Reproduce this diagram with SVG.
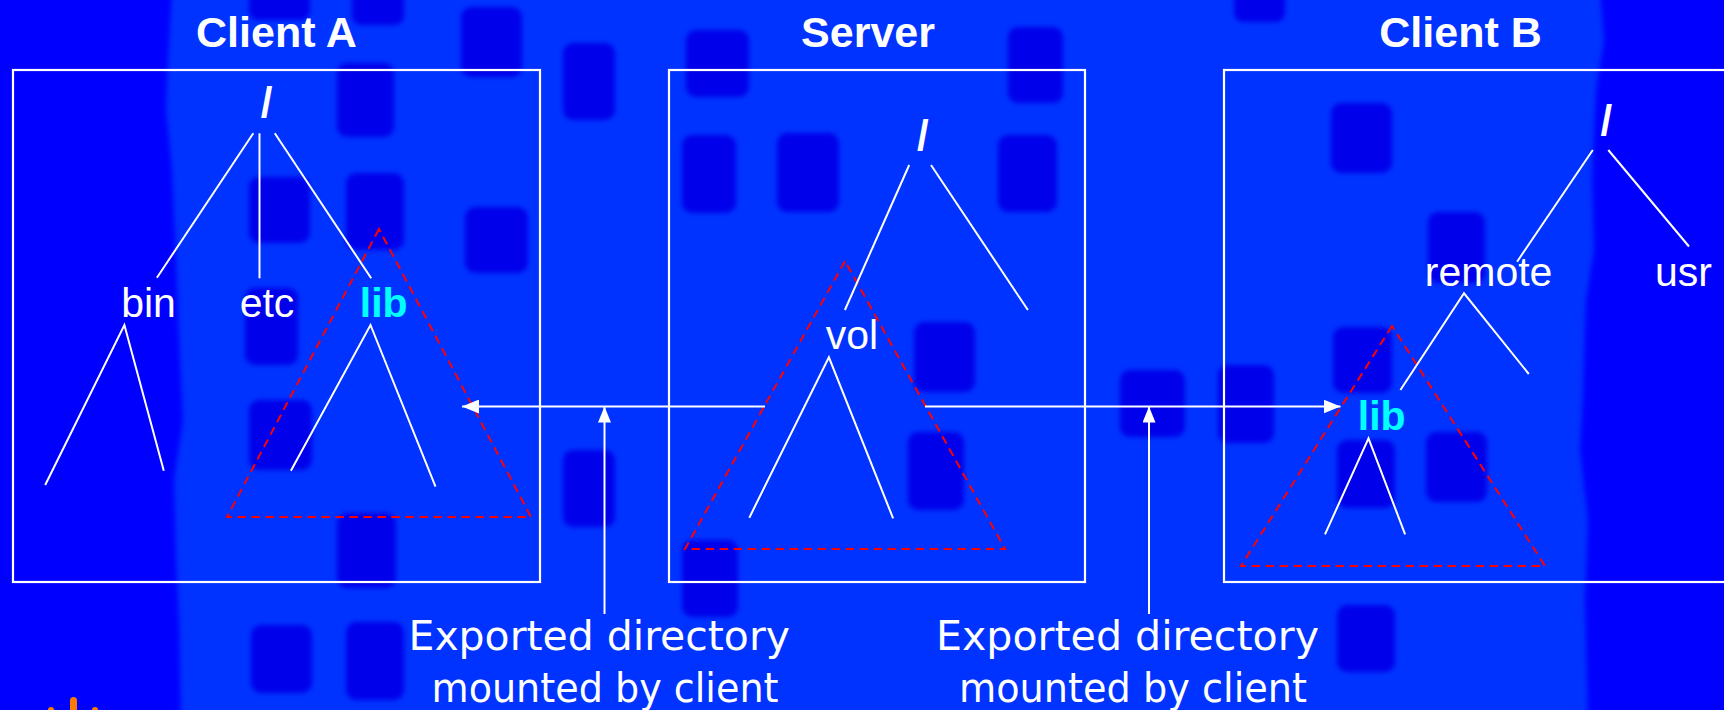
<svg xmlns="http://www.w3.org/2000/svg" width="1724" height="710" viewBox="0 0 1724 710">
<defs>
<style>
.bg{fill:#0033ff}
.strip{fill:#0000ff}
.sq{fill:#0006ea}
.box{fill:none;stroke:#ffffff;stroke-width:2.2}
.title{font-family:"Liberation Sans",Arial,sans-serif;font-weight:bold;font-size:43px;fill:#ffffff;text-anchor:middle}
.slash{font-family:"Liberation Sans",Arial,sans-serif;font-weight:bold;font-size:42px;fill:#ffffff;text-anchor:middle}
.lbl{font-family:"Liberation Sans",Arial,sans-serif;font-size:41px;fill:#ffffff;text-anchor:middle}
.lib{font-family:"Liberation Sans",Arial,sans-serif;font-weight:bold;font-size:41px;fill:#00ffff;text-anchor:middle}
.note{font-family:"DejaVu Sans",sans-serif;font-size:40px;fill:#ffffff}
.tree{fill:none;stroke:#ffffff;stroke-width:2}
.exp{fill:none;stroke:#ff0000;stroke-width:2;stroke-dasharray:8.5 5.5}
.arr{fill:none;stroke:#ffffff;stroke-width:2}
</style>
<filter id="soft" x="-20%" y="-20%" width="140%" height="140%"><feGaussianBlur stdDeviation="2.5"/></filter>
<marker id="ah" viewBox="0 0 17 14" refX="17" refY="7" markerWidth="17" markerHeight="14" markerUnits="userSpaceOnUse" orient="auto"><path d="M0,0 L17,7 L0,14 Z" fill="#ffffff"/></marker>
<marker id="av" viewBox="0 0 16 13" refX="16" refY="6.5" markerWidth="16" markerHeight="13" markerUnits="userSpaceOnUse" orient="auto"><path d="M0,0 L16,6.5 L0,13 Z" fill="#ffffff"/></marker>
</defs>

<g id="background">
<rect class="bg" x="0" y="0" width="1724" height="710"/>
<path class="strip" filter="url(#soft)" d="M-10,-10 L172,-10 L168,60 L166,110 L172,170 L176,260 L180,360 L183,420 L174,480 L176,560 L179,620 L181,720 L-10,720 Z"/>
<path class="strip" filter="url(#soft)" d="M1734,-10 L1600,-10 L1604,40 L1596,90 L1592,180 L1594,250 L1586,300 L1583,400 L1580,450 L1588,520 L1585,600 L1588,720 L1734,720 Z"/>
<g filter="url(#soft)">
<rect class="sq" x="249" y="-12" width="61" height="32" rx="9"/>
<rect class="sq" x="352" y="-12" width="52" height="37" rx="9"/>
<rect class="sq" x="461" y="7" width="61" height="70" rx="10"/>
<rect class="sq" x="563" y="43" width="52" height="77" rx="10"/>
<rect class="sq" x="337" y="63" width="57" height="74" rx="10"/>
<rect class="sq" x="249" y="177" width="61" height="66" rx="10"/>
<rect class="sq" x="346" y="173" width="58" height="77" rx="10"/>
<rect class="sq" x="465" y="207" width="63" height="66" rx="10"/>
<rect class="sq" x="245" y="288" width="53" height="77" rx="10"/>
<rect class="sq" x="249" y="400" width="63" height="70" rx="10"/>
<rect class="sq" x="337" y="513" width="59" height="75" rx="10"/>
<rect class="sq" x="251" y="625" width="61" height="68" rx="10"/>
<rect class="sq" x="346" y="622" width="58" height="78" rx="10"/>
<rect class="sq" x="563" y="450" width="52" height="77" rx="10"/>
<rect class="sq" x="686" y="30" width="63" height="67" rx="10"/>
<rect class="sq" x="682" y="135" width="54" height="78" rx="10"/>
<rect class="sq" x="777" y="133" width="62" height="79" rx="10"/>
<rect class="sq" x="998" y="135" width="59" height="77" rx="10"/>
<rect class="sq" x="1008" y="27" width="55" height="76" rx="10"/>
<rect class="sq" x="914" y="322" width="61" height="70" rx="10"/>
<rect class="sq" x="908" y="432" width="56" height="78" rx="10"/>
<rect class="sq" x="682" y="540" width="56" height="77" rx="10"/>
<rect class="sq" x="1120" y="370" width="65" height="67" rx="10"/>
<rect class="sq" x="1218" y="365" width="56" height="78" rx="10"/>
<rect class="sq" x="1234" y="-12" width="51" height="34" rx="9"/>
<rect class="sq" x="1331" y="103" width="61" height="70" rx="10"/>
<rect class="sq" x="1428" y="212" width="57" height="71" rx="10"/>
<rect class="sq" x="1333" y="327" width="59" height="66" rx="10"/>
<rect class="sq" x="1337" y="440" width="58" height="68" rx="10"/>
<rect class="sq" x="1426" y="432" width="61" height="70" rx="10"/>
<rect class="sq" x="1337" y="605" width="58" height="67" rx="10"/>
</g>
<g id="logo" fill="#ff7a00">
<rect x="70" y="697" width="7" height="20" rx="3.5"/>
<circle cx="51" cy="710" r="3"/>
<circle cx="95" cy="710" r="3"/>
</g>
</g>

<g id="client-a">
<rect class="box" x="13" y="70" width="527" height="512"/>
<text class="title" x="276.5" y="47">Client A</text>
</g>
<g id="server">
<rect class="box" x="669" y="70" width="416" height="512"/>
<text class="title" x="868" y="47">Server</text>
</g>
<g id="client-b">
<rect class="box" x="1224" y="70" width="520" height="512"/>
<text class="title" x="1460.5" y="47">Client B</text>
</g>

<g id="a-root"><text class="slash" x="266.5" y="116.5">/</text></g>
<g id="a-bin"><text class="lbl" x="148.5" y="317">bin</text></g>
<g id="a-etc"><text class="lbl" x="267" y="317">etc</text></g>
<g id="a-lib"><text class="lib" x="383.7" y="317">lib</text></g>

<g id="s-root"><text class="slash" x="922.8" y="149.5">/</text></g>
<g id="s-vol"><text class="lbl" x="852" y="349">vol</text></g>

<g id="b-root"><text class="slash" x="1606.3" y="135">/</text></g>
<g id="b-remote"><text class="lbl" x="1488.6" y="286">remote</text></g>
<g id="b-usr"><text class="lbl" x="1683.4" y="286">usr</text></g>
<g id="b-lib"><text class="lib" x="1381.7" y="430">lib</text></g>

<g id="exported-a"><polygon class="exp" points="379,229 227,517 531,517"/></g>
<g id="exported-s"><polygon class="exp" points="845,261 685,549 1005,549"/></g>
<g id="exported-b"><polygon class="exp" points="1392,326 1241,566 1545,566"/></g>

<g id="connectors">
<path class="tree" d="M253.3,133.3 L156.9,277.7"/>
<path class="tree" d="M259.5,133.3 L259.5,278.3"/>
<path class="tree" d="M274.8,133.3 L371.2,278.3"/>
<path class="tree" d="M45.2,485 L124.4,325 L163.8,470.7"/>
<path class="tree" d="M290.9,470.7 L370.5,325 L435.5,486.7"/>
<path class="tree" d="M909.2,165 L844.9,310"/>
<path class="tree" d="M931,165 L1027.9,310"/>
<path class="tree" d="M749.3,517.7 L828.9,357.3 L893.1,518.3"/>
<path class="tree" d="M1592.8,150 L1517.1,261.7"/>
<path class="tree" d="M1608.3,150 L1689,246.5"/>
<path class="tree" d="M1400.4,390 L1464,293.3 L1528.8,374"/>
<path class="tree" d="M1325,534.3 L1368.5,438.3 L1405.1,534.3"/>
<path class="arr" d="M765,406.5 L462,406.5" marker-end="url(#ah)"/>
<path class="arr" d="M925,406.5 L1340.5,406.5" marker-end="url(#ah)"/>
<path class="arr" d="M604.5,614 L604.5,406.5" marker-end="url(#av)"/>
<path class="arr" d="M1149,614 L1149,406.5" marker-end="url(#av)"/>
</g>

<g id="label-left">
<text class="note" x="408.5" y="650" textLength="381.5" lengthAdjust="spacingAndGlyphs">Exported directory</text>
<text class="note" x="431.5" y="701.5" textLength="347" lengthAdjust="spacingAndGlyphs">mounted by client</text>
</g>
<g id="label-right">
<text class="note" x="936" y="650" textLength="383" lengthAdjust="spacingAndGlyphs">Exported directory</text>
<text class="note" x="959" y="701.5" textLength="348" lengthAdjust="spacingAndGlyphs">mounted by client</text>
</g>
</svg>
